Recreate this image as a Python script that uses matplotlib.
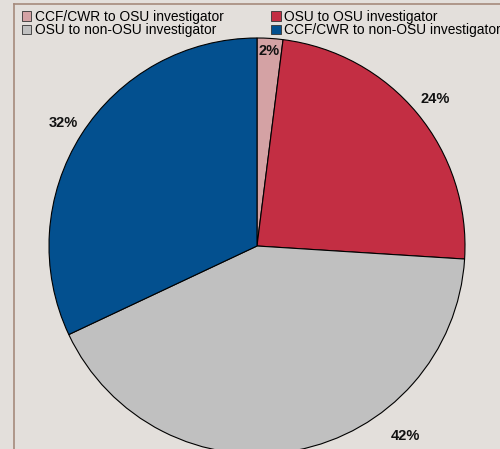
import matplotlib
matplotlib.use("Agg")
import matplotlib.pyplot as plt
import numpy as np
from matplotlib.patches import Patch
from matplotlib.lines import Line2D

categories = ["CCF/CWR to OSU investigator", "OSU to OSU investigator",
              "OSU to non-OSU investigator", "CCF/CWR to non-OSU investigator"]
values = [2, 24, 42, 32]
labels = ["2%", "24%", "42%", "32%"]
colors = ["#d4a2a4", "#c32e43", "#c0c0c0", "#03508f"]

plt.rcParams['font.family'] = ['Liberation Sans', 'DejaVu Sans']
BG = "#e3dfdb"
W, H = 500, 449
fig = plt.figure(figsize=(W / 100, H / 100), dpi=100, facecolor=BG)
ax = fig.add_axes([0, 0, 1, 1])
ax.set_facecolor(BG)

cx, cy, R = 257, H - 246, 208
wedges, _ = ax.pie(values, colors=colors, startangle=90, counterclock=False,
                   center=(cx, cy), radius=R,
                   wedgeprops=dict(edgecolor="black", linewidth=0.8))
ax.set_xlim(0, W)
ax.set_ylim(0, H)
ax.set_aspect("equal")
ax.axis("off")

# label radii (fraction of radius); 42% label is pulled into the visible area
label_r = [0.94, 1.11, None, 1.10]
for w, lab, rf in zip(wedges, labels, label_r):
    if rf is None:
        x, y = 405, H - 436
    else:
        ang = np.deg2rad((w.theta1 + w.theta2) / 2)
        x = cx + rf * R * np.cos(ang)
        y = cy + rf * R * np.sin(ang)
    ax.text(x, y, lab, ha="center", va="center", fontsize=10.5,
            fontweight="bold", color="#111111")

# border lines
fig.add_artist(Line2D([14 / W, 14 / W], [0, 1 - 4 / H], transform=fig.transFigure,
                      color="#a58a7c", lw=1.2))
fig.add_artist(Line2D([14 / W, 1], [1 - 4 / H, 1 - 4 / H], transform=fig.transFigure,
                      color="#a58a7c", lw=1.2))

order = [0, 2, 1, 3]
handles = [Patch(facecolor=colors[i], edgecolor="#333333", linewidth=0.6) for i in order]
leg = fig.legend(handles, [categories[i] for i in order], ncol=2,
                 loc="upper left", bbox_to_anchor=(19 / W, 1 - 7 / H),
                 frameon=False, fontsize=9.9, handlelength=0.7, handleheight=0.7,
                 handletextpad=0.25, columnspacing=3.45, labelspacing=-0.02,
                 borderpad=0.2, borderaxespad=0)

fig.savefig("out.png", dpi=100, facecolor=BG)
